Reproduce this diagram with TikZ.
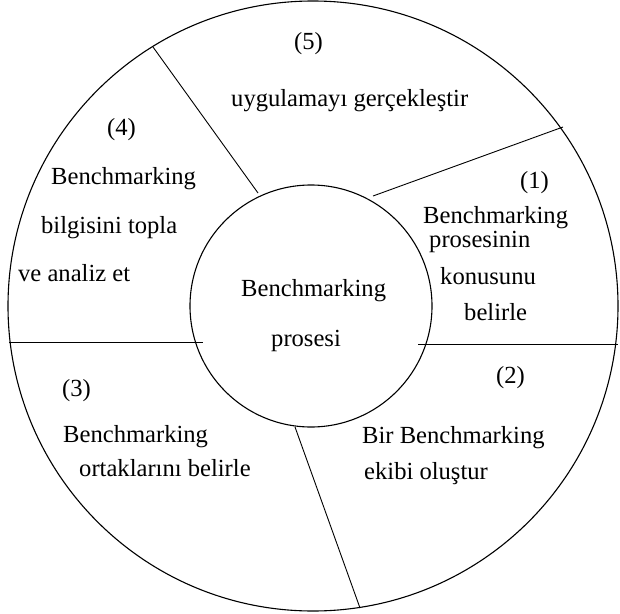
\documentclass[tikz,border=0pt]{standalone}
\usepackage{fontspec}
\setmainfont{Liberation Serif}
\begin{document}
\begin{tikzpicture}[x=1bp,y=-1bp,
  ring/.style={draw=black,line width=1.1bp},
  divider/.style={draw=black,line width=0.9bp},
  lbl/.style={anchor=base west,inner sep=0pt,font=\fontsize{24.6bp}{28bp}\selectfont}]
\useasboundingbox (0,0) rectangle (620,614);
% circles
\coordinate (oc) at (313,306);
\coordinate (ic) at (311,306);
\draw[ring] (oc) circle[radius=305];
\draw[ring] (ic) circle[radius=121];
% divider end points
\coordinate (a1) at (153,47);  \coordinate (a2) at (258,193);
\coordinate (b1) at (563,127); \coordinate (b2) at (373,196);
\coordinate (c1) at (9,342);   \coordinate (c2) at (203,342);
\coordinate (d1) at (418,344); \coordinate (d2) at (618,344);
\coordinate (e1) at (295,427); \coordinate (e2) at (360,608);
\draw[divider] (a1) -- (a2);
\draw[divider] (b1) -- (b2);
\draw[divider] (c1) -- (c2);
\draw[divider] (d1) -- (d2);
\draw[divider] (e1) -- (e2);
% sector 5
\node[lbl] (n5) at (294,50) {(5)};
\node[lbl] (t5) at (231,107) {uygulamayı gerçekleştir};
% sector 4
\node[lbl] (n4) at (107,136) {(4)};
\node[lbl] (t4a) at (51,185) {Benchmarking};
\node[lbl] (t4b) at (41,233) {bilgisini topla};
\node[lbl] (t4c) at (18,281) {ve analiz et};
% sector 1
\node[lbl] (n1) at (520,188) {(1)};
\node[lbl] (t1a) at (423,223) {Benchmarking};
\node[lbl] (t1b) at (429,247) {prosesinin};
\node[lbl] (t1c) at (440,284) {konusunu};
\node[lbl] (t1d) at (464,320) {belirle};
% centre
\node[lbl] (c1t) at (241,296) {Benchmarking};
\node[lbl] (c2t) at (271,346) {prosesi};
% sector 2
\node[lbl] (n2) at (496,383) {(2)};
\node[lbl] (t2a) at (362,443) {Bir Benchmarking};
\node[lbl] (t2b) at (364,479) {ekibi oluştur};
% sector 3
\node[lbl] (n3) at (62,396) {(3)};
\node[lbl] (t3a) at (63,442) {Benchmarking};
\node[lbl] (t3b) at (79,476) {ortaklarını belirle};
\end{tikzpicture}
\end{document}
